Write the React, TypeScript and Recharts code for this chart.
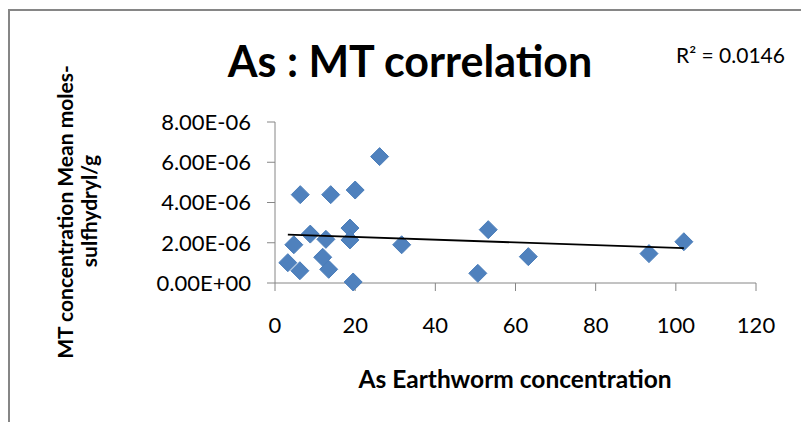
import React from "react";
import { ScatterChart, Scatter, XAxis, YAxis } from "recharts";

// values
const asEarthworm = [
  3.2, 4.7, 6.2, 6.3, 8.8, 11.9, 12.7, 13.4, 13.9, 18.7, 18.7, 19.5, 20.0,
  26.1, 31.6, 50.6, 53.2, 63.2, 93.3, 102.0,
];
const mtMean = [
  1.01e-6, 1.9e-6, 0.61e-6, 4.39e-6, 2.43e-6, 1.28e-6, 2.17e-6, 0.68e-6,
  4.39e-6, 2.73e-6, 2.14e-6, 0.05e-6, 4.62e-6, 6.28e-6, 1.9e-6, 0.48e-6,
  2.65e-6, 1.31e-6, 1.46e-6, 2.05e-6,
];
const xTicks = [0, 20, 40, 60, 80, 100, 120];
const yTicks = [0, 2e-6, 4e-6, 6e-6, 8e-6];
const rSquaredLabel = "R² = 0.0146";

const points = asEarthworm.map((x, i) => ({ x, y: mtMean[i] }));

// linear trendline (least squares), drawn from min x to max x like Excel
function trendline(xs: number[], ys: number[]) {
  const n = xs.length;
  const mx = xs.reduce((a, b) => a + b, 0) / n;
  const my = ys.reduce((a, b) => a + b, 0) / n;
  let sxy = 0;
  let sxx = 0;
  xs.forEach((x, i) => {
    sxy += (x - mx) * (ys[i] - my);
    sxx += (x - mx) * (x - mx);
  });
  const slope = sxy / sxx;
  const intercept = my - slope * mx;
  const x0 = Math.min(...xs);
  const x1 = Math.max(...xs);
  return [
    { x: x0, y: intercept + slope * x0 },
    { x: x1, y: intercept + slope * x1 },
  ];
}

const trend = trendline(asEarthworm, mtMean);

// 8.00E-06 style
const sci = (v: number) => {
  const [m, e] = v.toExponential(2).split("e");
  const sign = e[0] === "-" ? "-" : "+";
  const digits = e.replace(/[+-]/, "").padStart(2, "0");
  return `${m}E${sign}${digits}`;
};

const Diamond = (props: any) => {
  const { cx, cy } = props;
  const r = 9;
  return (
    <path
      d={`M${cx},${cy - r} L${cx + r},${cy} L${cx},${cy + r} L${cx - r},${cy} Z`}
      fill="#4F81BD"
      stroke="#4A7DBA"
      strokeWidth={1}
    />
  );
};

const font = "Lato, 'Open Sans', sans-serif";
const axisColor = "#868686";

export default function App() {
  return (
    <div
      style={{
        position: "absolute",
        left: 0,
        top: 0,
        width: 801,
        height: 422,
        background: "#fff",
        overflow: "hidden",
        fontFamily: font,
      }}
    >
      <div
        style={{
          position: "absolute",
          left: 8,
          top: 9,
          width: 820,
          height: 440,
          border: `2px solid ${axisColor}`,
          boxSizing: "border-box",
        }}
      />
      <div style={{ position: "absolute", left: 0, top: 0 }}>
        <ScatterChart
          width={801}
          height={422}
          margin={{ top: 122, right: 45, left: 0, bottom: 79 }}
        >
          <XAxis
            type="number"
            dataKey="x"
            domain={[0, 120]}
            ticks={xTicks}
            interval={0}
            tickSize={8}
            tickMargin={26}
            stroke={axisColor}
            tick={{ fill: "#000", fontSize: 22, fontFamily: font }}
            tickLine={{ stroke: axisColor }}
            height={60}
          />
          <YAxis
            type="number"
            dataKey="y"
            domain={[0, 8e-6]}
            ticks={yTicks}
            interval={0}
            tickFormatter={sci}
            tickSize={8}
            tickMargin={16}
            stroke={axisColor}
            tick={{ fill: "#000", fontSize: 22, fontFamily: font }}
            tickLine={{ stroke: axisColor }}
            width={275}
          />
          <Scatter
            data={points}
            shape={<Diamond />}
            isAnimationActive={false}
          />
          <Scatter
            data={trend}
            line={{ stroke: "#000", strokeWidth: 1.8 }}
            shape={() => <g />}
            isAnimationActive={false}
          />
        </ScatterChart>
      </div>
      <svg
        width={801}
        height={422}
        style={{ position: "absolute", left: 0, top: 0, pointerEvents: "none" }}
        fontFamily={font}
      >
        <text x={410} y={77} textAnchor="middle" fontSize={43} fontWeight="bold" fill="#000">
          As : MT correlation
        </text>
        <text x={676} y={63} fontSize={21} fill="#000">
          {rSquaredLabel}
        </text>
        <text x={515} y={388} textAnchor="middle" fontSize={24.5} fontWeight="bold" fill="#000">
          As Earthworm concentration
        </text>
        <text
          transform="translate(73,212) rotate(-90)"
          textAnchor="middle"
          fontSize={21}
          fontWeight="bold"
          fill="#000"
        >
          MT concentration Mean moles-
        </text>
        <text
          transform="translate(97,211) rotate(-90)"
          textAnchor="middle"
          fontSize={21}
          fontWeight="bold"
          fill="#000"
        >
          sulfhydryl/g
        </text>
      </svg>
    </div>
  );
}
